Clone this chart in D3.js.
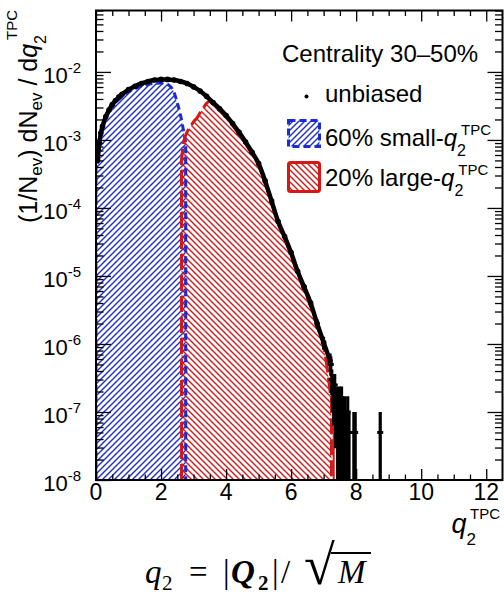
<!DOCTYPE html>
<html><head><meta charset="utf-8">
<script src="https://cdn.jsdelivr.net/npm/d3@7"></script>
<style>body{margin:0;background:#fff}svg{display:block}</style>
</head><body><svg id="c" width="504" height="596"></svg>
<script>
// ---------------- data ----------------
const unbiasedQ = [0.05,0.1,0.15,0.2,0.3,0.4,0.5,0.6,0.7,0.8,1.0,1.2,1.4,1.6,1.8,2.0,2.2,2.4,2.6,2.8,3.0,3.2,3.4,3.6,3.8,4.0,4.2,4.4,4.6,4.8,5.0,5.2,5.4,5.6,5.8,6.0,6.2,6.4,6.6,6.8,7.0,7.2];
const unbiasedVal = [5.0e-4,8.9e-4,1.26e-3,1.58e-3,2.19e-3,2.75e-3,3.31e-3,3.80e-3,4.27e-3,4.68e-3,5.50e-3,6.17e-3,6.76e-3,7.24e-3,7.59e-3,7.76e-3,7.76e-3,7.59e-3,7.24e-3,6.76e-3,6.03e-3,5.25e-3,4.37e-3,3.55e-3,2.88e-3,2.29e-3,1.74e-3,1.29e-3,9.3e-4,6.6e-4,4.5e-4,2.5e-4,1.26e-4,6.3e-5,3.8e-5,2.2e-5,1.17e-5,6.9e-6,4.0e-6,2.0e-6,1.05e-6,5.6e-7];
// sparse tail of the unbiased distribution: bin centre and number of events
const tailQ = [7.22,7.25,7.28,7.31,7.34,7.37,7.40,7.43,7.46,7.49,7.52,7.55,7.58,7.61,7.64,7.67,7.70,7.74,7.78,7.93,7.97,8.74];
const tailN = [10,6,4,3,5,2,3,1,2,3,1,3,2,1,2,1,1,2,1,1,1,1];
const perEvent = 5e-8;
// 60% small-q2 selection
const smallQ = [0.05,0.1,0.15,0.2,0.3,0.4,0.5,0.6,0.7,0.8,1.0,1.2,1.4,1.6,1.8,2.0,2.1,2.2,2.3,2.4,2.5,2.6,2.7,2.76];
const smallVal = [4.7e-4,8.3e-4,1.17e-3,1.47e-3,2.04e-3,2.56e-3,3.07e-3,3.52e-3,3.95e-3,4.33e-3,5.08e-3,5.68e-3,6.2e-3,6.55e-3,6.8e-3,6.85e-3,6.78e-3,6.55e-3,6.0e-3,5.0e-3,3.5e-3,2.3e-3,1.3e-3,9.0e-4];
const smallEdges = [0, 2.76];
// 20% large-q2 selection
const largeQ = [2.63,2.66,2.7,2.8,2.9,3.0,3.1,3.2,3.3,3.4,3.5,3.6,3.8,4.0,4.2,4.4,4.6,4.8,5.0,5.2,5.4,5.6,5.8,6.0,6.2,6.4,6.6,6.8,7.0,7.2];
const largeVal = [5.0e-4,7.0e-4,9.5e-4,1.3e-3,1.55e-3,1.85e-3,2.1e-3,2.5e-3,2.95e-3,3.45e-3,3.75e-3,3.35e-3,2.72e-3,2.16e-3,1.64e-3,1.22e-3,8.8e-4,6.2e-4,4.25e-4,2.36e-4,1.19e-4,5.9e-5,3.5e-5,2.0e-5,1.07e-5,6.2e-6,3.6e-6,1.8e-6,9.3e-7,2.0e-7];
const largeEdges = [2.63, 7.24];
const largeTailQ = [7.31,7.43,7.52,7.61,7.74,7.93,8.74];
const largeTailVal = [1e-7,5e-8,5e-8,5e-8,2.7e-8,5e-8,4.5e-8];

const xTickValues = [0,2,4,6,8,10,12];
const xTickLabels = ["0","2","4","6","8","10","12"];
const yTickValues = [1e-2,1e-3,1e-4,1e-5,1e-6,1e-7,1e-8];
const yTickExp = ["-2","-3","-4","-5","-6","-7","-8"];
const legendTitle = "Centrality 30–50%";
const legendLabels = ["unbiased","60% small-","20% large-"];

// ---------------- layout ----------------
const svg = d3.select("#c");
const X0 = 96, X1 = 502.5, Y0 = 10.5, Y1 = 480;
const x = d3.scaleLinear().domain([0, 12.5]).range([X0, X1]);
const y = d3.scaleLog().domain([1e-8, 0.08]).range([Y1, Y0]);
const BLUE = "#1a2ccf", RED = "#d41818";
const SANS = "'Liberation Sans', Arial, Helvetica, sans-serif";

const defs = svg.append("defs");
defs.append("clipPath").attr("id","plot").append("rect")
  .attr("x",X0).attr("y",Y0).attr("width",X1-X0).attr("height",Y1-Y0);
function hatch(id, color, dir){
  const s = 6;
  const p = defs.append("pattern").attr("id",id).attr("patternUnits","userSpaceOnUse")
    .attr("width",s).attr("height",s);
  const d = dir > 0
    ? `M0,${s}L${s},0M-1,1L1,-1M${s-1},${s+1}L${s+1},${s-1}`
    : `M0,0L${s},${s}M-1,${s-1}L1,${s+1}M${s-1},-1L${s+1},1`;
  p.append("path").attr("d",d).attr("stroke",color).attr("stroke-width",1.4).attr("fill","none");
}
hatch("hb", BLUE, 1);
hatch("hr", RED, -1);

const lineGen = d3.line().x(d=>x(d[0])).y(d=>y(d[1])).curve(d3.curveMonotoneX);
function histPath(qs, vs, edges){
  const pts = qs.map((q,i)=>[q,vs[i]]);
  const inner = lineGen(pts);
  return `M${x(edges[0])},${Y1}L${x(edges[0])},${y(vs[0])}L` + inner.slice(1) +
         `L${x(edges[1])},${y(vs[vs.length-1])}L${x(edges[1])},${Y1}`;
}

const plot = svg.append("g").attr("clip-path","url(#plot)");

// filled hatched histograms
plot.append("path").attr("d", histPath(smallQ, smallVal, smallEdges)+"Z").attr("fill","url(#hb)");
plot.append("path").attr("d", histPath(largeQ, largeVal, largeEdges)+"Z").attr("fill","url(#hr)");
plot.selectAll("rect.rt").data(largeTailQ).join("rect").attr("class","rt")
  .attr("x", d=>x(d)-1).attr("width",2)
  .attr("y",(d,i)=>y(largeTailVal[i])).attr("height",(d,i)=>Y1-y(largeTailVal[i]))
  .attr("fill", RED);
// outlines
plot.append("path").attr("d", histPath(smallQ, smallVal, smallEdges)).attr("fill","none")
  .attr("stroke",BLUE).attr("stroke-width",3).attr("stroke-dasharray","7,4");
plot.append("path").attr("d", histPath(largeQ, largeVal, largeEdges)).attr("fill","none")
  .attr("stroke",RED).attr("stroke-width",3).attr("stroke-dasharray","16,5");

// unbiased
const ub = unbiasedQ.map((q,i)=>[q,unbiasedVal[i]]);
plot.append("path").attr("d", lineGen(ub)).attr("fill","none").attr("stroke","#000").attr("stroke-width",4.5);
plot.selectAll("line.eb").data(ub).join("line").attr("class","eb")
  .attr("x1",d=>x(d[0])).attr("x2",d=>x(d[0]))
  .attr("y1",d=>y(d[1]+Math.sqrt(d[1]/perEvent)*perEvent))
  .attr("y2",d=>y(Math.max(1e-12,d[1]-Math.sqrt(d[1]/perEvent)*perEvent)))
  .attr("stroke","#000").attr("stroke-width",3);
plot.selectAll("circle.m").data(ub).join("circle").attr("class","m")
  .attr("cx",d=>x(d[0])).attr("cy",d=>y(d[1])).attr("r",2.8).attr("fill","#000");
const tail = tailQ.map((q,i)=>({q, v: tailN[i]*perEvent, e: Math.sqrt(tailN[i])*perEvent}));
plot.selectAll("line.te").data(tail).join("line").attr("class","te")
  .attr("x1",d=>x(d.q)).attr("x2",d=>x(d.q))
  .attr("y1",d=>y(d.v+d.e)).attr("y2",d=>d.v-d.e>1e-9 ? y(d.v-d.e) : Y1+5)
  .attr("stroke","#000").attr("stroke-width",3.2);
plot.selectAll("rect.t").data(tail).join("rect").attr("class","t")
  .attr("x",d=>x(d.q)-3).attr("y",d=>y(d.v)-1.5).attr("width",6).attr("height",3).attr("fill","#000");

// ---------------- axes ----------------
const xMinor = d3.range(0.5, 12.5, 0.5).filter(v=>v%2!==0);
const yMinor = [];
for (let e=-8; e<=-2; e++) for (let k=2;k<=9;k++){ const v=k*Math.pow(10,e); if (v<=0.08) yMinor.push(v); }
function ax(gen, tr){
  const g = svg.append("g").attr("transform",tr).call(gen);
  g.select(".domain").remove();
  g.selectAll("line").attr("stroke","#000").attr("stroke-width",1.3);
  return g;
}
ax(d3.axisBottom(x).tickValues(xTickValues).tickSize(-11).tickFormat(""), `translate(0,${Y1})`);
ax(d3.axisBottom(x).tickValues(xMinor).tickSize(-5.5).tickFormat(""), `translate(0,${Y1})`);
ax(d3.axisTop(x).tickValues(xTickValues).tickSize(-11).tickFormat(""), `translate(0,${Y0})`);
ax(d3.axisTop(x).tickValues(xMinor).tickSize(-5.5).tickFormat(""), `translate(0,${Y0})`);
ax(d3.axisLeft(y).tickValues(yTickValues).tickSize(-15).tickFormat(""), `translate(${X0},0)`);
ax(d3.axisLeft(y).tickValues(yMinor).tickSize(-7.5).tickFormat(""), `translate(${X0},0)`);
ax(d3.axisRight(y).tickValues(yTickValues).tickSize(-15).tickFormat(""), `translate(${X1},0)`);
ax(d3.axisRight(y).tickValues(yMinor).tickSize(-7.5).tickFormat(""), `translate(${X1},0)`);
svg.append("rect").attr("x",X0).attr("y",Y0).attr("width",X1-X0).attr("height",Y1-Y0)
  .attr("fill","none").attr("stroke","#000").attr("stroke-width",2);

// tick labels
svg.selectAll("text.xl").data(xTickValues).join("text").attr("class","xl")
  .attr("x",d=>x(d)).attr("y",500).attr("text-anchor","middle")
  .attr("font-family",SANS).attr("font-size",23).text((d,i)=>xTickLabels[i]);
const yl = svg.selectAll("text.yl").data(yTickValues).join("text").attr("class","yl")
  .attr("x",81).attr("y",d=>y(d)+11).attr("text-anchor","end").attr("font-family",SANS);
yl.append("tspan").attr("font-size",22).text("10");
yl.append("tspan").attr("font-size",15).attr("dy",-10).text((d,i)=>yTickExp[i]);

// axis titles
const yt = svg.append("text").attr("transform","translate(37,10) rotate(-90)")
  .attr("text-anchor","end").attr("font-family",SANS).attr("font-size",25);
yt.append("tspan").text("(1/N");
yt.append("tspan").attr("font-size",17).attr("dy",5).text("ev");
yt.append("tspan").attr("dy",-5).text(") dN");
yt.append("tspan").attr("font-size",17).attr("dy",5).text("ev");
yt.append("tspan").attr("dy",-5).text(" / d");
yt.append("tspan").attr("font-style","italic").text("q");
yt.append("tspan").attr("font-size",16).attr("dy",9).text("2");
yt.append("tspan").attr("font-size",15).attr("dy",-29).attr("dx",-5).text("TPC");

const xt = svg.append("text").attr("x",500).attr("y",533).attr("text-anchor","end")
  .attr("font-family",SANS).attr("font-size",27);
xt.append("tspan").attr("font-style","italic").text("q");
xt.append("tspan").attr("font-size",17).attr("dy",12).text("2");
xt.append("tspan").attr("font-size",15).attr("dy",-26).attr("dx",-6).text("TPC");

// ---------------- legend ----------------
svg.append("text").attr("x",282).attr("y",62).attr("font-family",SANS).attr("font-size",24).text(legendTitle);
svg.append("circle").attr("cx",306.5).attr("cy",96.5).attr("r",2).attr("fill","#000");
svg.append("text").attr("x",325).attr("y",102).attr("font-family",SANS).attr("font-size",24).text(legendLabels[0]);
svg.append("rect").attr("x",288.5).attr("y",120.5).attr("width",31).attr("height",26)
  .attr("fill","url(#hb)").attr("stroke",BLUE).attr("stroke-width",3).attr("stroke-dasharray","7,4");
svg.append("rect").attr("x",288.5).attr("y",162.5).attr("width",31).attr("height",29).attr("rx",2)
  .attr("fill","url(#hr)").attr("stroke",RED).attr("stroke-width",3);
[[legendLabels[1],146],[legendLabels[2],186]].forEach(([lab,by])=>{
  const t = svg.append("text").attr("x",325).attr("y",by).attr("font-family",SANS).attr("font-size",24);
  t.append("tspan").text(lab);
  t.append("tspan").attr("font-style","italic").text("q");
  t.append("tspan").attr("font-size",16).attr("dy",10).text("2");
  t.append("tspan").attr("font-size",15).attr("dy",-21).attr("dx",-5).text("TPC");
});

// ---------------- formula ----------------
const SERIF = "'Liberation Serif', 'Times New Roman', serif";
const fy = 583, fs = 590;
const f = svg.append("g").attr("font-family",SERIF).attr("font-size",33);
f.append("text").attr("x",145).attr("y",fy).attr("font-style","italic").text("q");
f.append("text").attr("x",162).attr("y",fs).attr("font-size",21).text("2");
f.append("text").attr("x",189).attr("y",fy).text("=");
f.append("text").attr("x",223).attr("y",fy).text("|");
f.append("text").attr("x",231).attr("y",fy).attr("font-style","italic").attr("font-weight","bold").text("Q");
f.append("text").attr("x",258).attr("y",fs).attr("font-size",21).attr("font-weight","bold").text("2");
f.append("text").attr("x",272).attr("y",fy).text("|");
f.append("text").attr("x",281).attr("y",fy).text("/");
f.append("text").attr("x",304).attr("y",584).attr("font-size",56).text("√");
f.append("text").attr("x",338).attr("y",fy).attr("font-style","italic").text("M");
f.append("line").attr("x1",331).attr("x2",371).attr("y1",553).attr("y2",553).attr("stroke","#000").attr("stroke-width",1.8);
</script></body></html>
